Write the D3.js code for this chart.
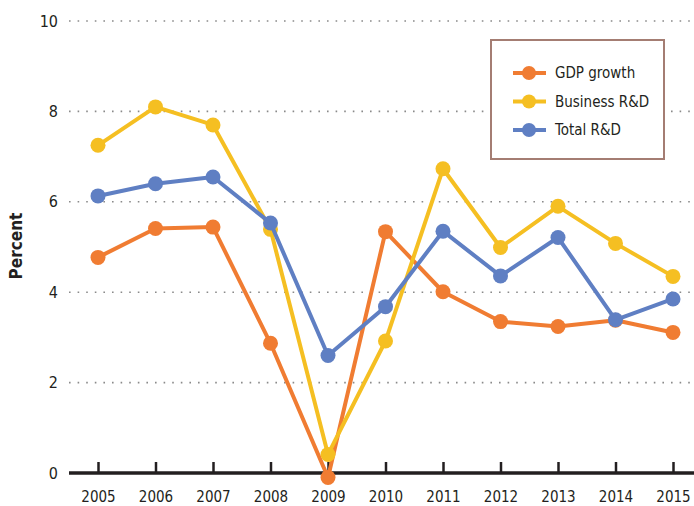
<!DOCTYPE html>
<html>
<head>
<meta charset="utf-8">
<script src="https://cdn.jsdelivr.net/npm/d3@7"></script>
<style>
  body { margin: 0; background: #fff; }
  text { font-family: "Liberation Sans Narrow", "DejaVu Sans Condensed", "Roboto", sans-serif; fill: #231f20; }
</style>
</head>
<body>
<div id="chart"></div>
<script>
// data
var years = ["2005","2006","2007","2008","2009","2010","2011","2012","2013","2014","2015"];
var gdpGrowth   = [4.77, 5.41, 5.44, 2.87, -0.10, 5.34, 4.01, 3.35, 3.24, 3.38, 3.11];
var businessRD  = [7.25, 8.10, 7.70, 5.39, 0.41, 2.92, 6.73, 4.99, 5.90, 5.08, 4.35];
var totalRD     = [6.13, 6.40, 6.55, 5.53, 2.60, 3.68, 5.35, 4.36, 5.21, 3.39, 3.85];
var yTicks = [0, 2, 4, 6, 8, 10];

var series = [
  { name: "GDP growth",   values: gdpGrowth,  color: "#f07c32" },
  { name: "Business R&D", values: businessRD, color: "#f5bf22" },
  { name: "Total R&D",    values: totalRD,    color: "#5f7fc3" }
];

var W = 694, H = 506;

var svg = d3.select("#chart").append("svg")
    .attr("width", W).attr("height", H);

// scales
var x = d3.scalePoint().domain(years).range([98, 673]);
var y = d3.scaleLinear().domain([0, 10]).range([473, 21]);

// dotted gridlines
svg.append("g")
  .selectAll("line")
  .data(yTicks.filter(function(d){ return d > 0; }))
  .enter().append("line")
    .attr("x1", 69).attr("x2", 692)
    .attr("y1", function(d){ return y(d); })
    .attr("y2", function(d){ return y(d); })
    .attr("stroke", "#8a8a8a")
    .attr("stroke-width", 1.6)
    .attr("stroke-dasharray", "1.6,7");

// y tick labels
svg.append("g")
  .selectAll("text")
  .data(yTicks)
  .enter().append("text")
    .attr("x", 58)
    .attr("y", function(d){ return y(d); })
    .attr("dy", "0.35em")
    .attr("text-anchor", "end")
    .attr("font-size", 16)
    .text(function(d){ return d; });

// x axis: ticks point up
var xAxis = svg.append("g")
    .attr("transform", "translate(0," + y(0) + ")")
    .call(d3.axisBottom(x).tickSizeInner(-11).tickSizeOuter(0).tickPadding(18));
xAxis.select(".domain").remove();
xAxis.selectAll(".tick line").attr("stroke", "#231f20").attr("stroke-width", 2.5);
xAxis.selectAll(".tick text")
    .attr("font-size", 15)
    .attr("font-family", "Liberation Sans Narrow, DejaVu Sans Condensed, sans-serif")
    .attr("fill", "#231f20");
svg.append("line")
    .attr("x1", 69).attr("x2", 694)
    .attr("y1", y(0)).attr("y2", y(0))
    .attr("stroke", "#231f20").attr("stroke-width", 3.5);

// y title
svg.append("text")
    .attr("transform", "translate(22," + 246 + ") rotate(-90)")
    .attr("text-anchor", "middle")
    .attr("font-size", 17)
    .attr("font-weight", "bold")
    .text("Percent");

// lines + points
var line = d3.line()
    .x(function(d, i){ return x(years[i]); })
    .y(function(d){ return y(d); });

series.forEach(function(s) {
  var g = svg.append("g");
  g.append("path")
    .datum(s.values)
    .attr("d", line)
    .attr("fill", "none")
    .attr("stroke", s.color)
    .attr("stroke-width", 4)
    .attr("stroke-linejoin", "round");
  g.selectAll("circle")
    .data(s.values)
    .enter().append("circle")
      .attr("cx", function(d, i){ return x(years[i]); })
      .attr("cy", function(d){ return y(d); })
      .attr("r", 7.5)
      .attr("fill", s.color);
});

// legend
var legend = svg.append("g");
legend.append("rect")
    .attr("x", 491).attr("y", 40)
    .attr("width", 173).attr("height", 119)
    .attr("fill", "#fff")
    .attr("stroke", "#a47d73")
    .attr("stroke-width", 2);

var items = legend.selectAll("g")
    .data(series)
    .enter().append("g")
      .attr("transform", function(d, i){ return "translate(0," + (73 + i * 28.5) + ")"; });
items.append("line")
    .attr("x1", 513).attr("x2", 546)
    .attr("stroke", function(d){ return d.color; })
    .attr("stroke-width", 4);
items.append("circle")
    .attr("cx", 529).attr("r", 7)
    .attr("fill", function(d){ return d.color; });
items.append("text")
    .attr("x", 555)
    .attr("dy", "0.35em")
    .attr("font-size", 15)
    .text(function(d){ return d.name; });
</script>
</body>
</html>
